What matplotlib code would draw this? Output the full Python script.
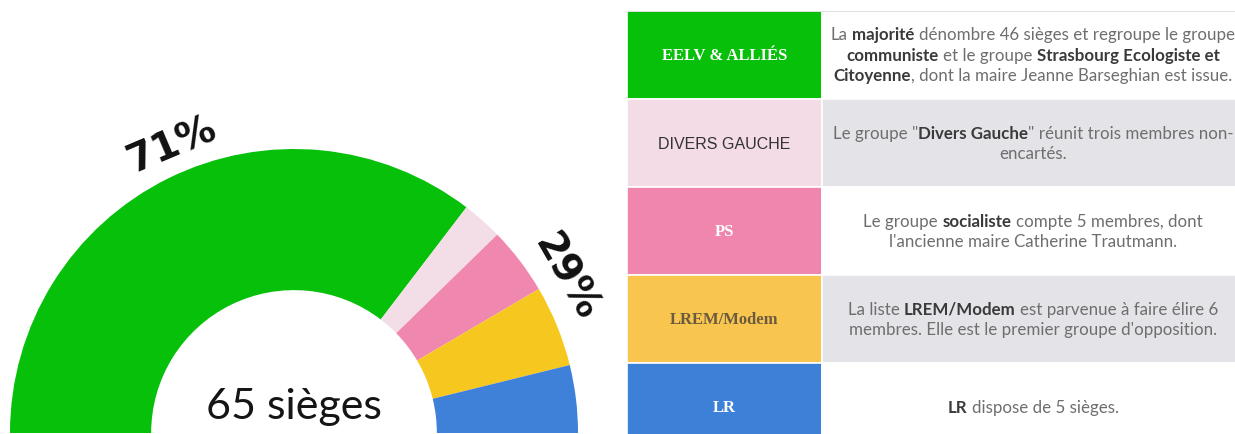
import matplotlib.pyplot as plt
import matplotlib.transforms as mtransforms
import numpy as np

# --- data ---
parties = ["EELV & ALLIÉS", "DIVERS GAUCHE", "PS", "LREM/Modem", "LR"]
seats = [46, 3, 5, 6, 5]
wedge_colors = ["#07c00a", "#f3dde7", "#ef87ae", "#f6c81f", "#3f81d8"]
cell_colors = ["#07c00a", "#f3dce6", "#f086ae", "#f8c54f", "#3d80d8"]
label_colors = ["white", "#333333", "white", "#6b5a40", "white"]
label_serif = [True, False, True, True, True]
row_bg = ["white", "#e3e3e8", "white", "#e3e3e8", "white"]

# each description: list of lines, each line a list of (text, bold)
descriptions = [
    [[("La ", False), ("majorité", True), (" dénombre 46 sièges et regroupe le groupe", False)],
     [("communiste", True), (" et le groupe ", False), ("Strasbourg Ecologiste et", True)],
     [("Citoyenne", True), (", dont la maire Jeanne Barseghian est issue.", False)]],
    [[("Le groupe \"", False), ("Divers Gauche", True), ("\" réunit trois membres non-", False)],
     [("encartés.", False)]],
    [[("Le groupe ", False), ("socialiste", True), (" compte 5 membres, dont", False)],
     [("l'ancienne maire Catherine Trautmann.", False)]],
    [[("La liste ", False), ("LREM/Modem", True), (" est parvenue à faire élire 6", False)],
     [("membres. Elle est le premier groupe d'opposition.", False)]],
    [[("LR", True), (" dispose de 5 sièges.", False)]],
]

W, H = 1235, 435
fig = plt.figure(figsize=(W / 100, H / 100), dpi=100)
fig.patch.set_facecolor("white")

# --- half donut ---
cx, cy, R = 294, 434, 284  # centre and outer radius in pixels
left_w = 627
ax = fig.add_axes([0, 0, left_w / W, 1])
ax.pie(seats + [sum(seats)], colors=wedge_colors + ["none"], startangle=180,
       counterclock=False, radius=1, wedgeprops=dict(width=0.497, linewidth=0))
ax.set_aspect("auto")
ax.set_xlim(-cx / R, (left_w - cx) / R)
ax.set_ylim(-(H - cy) / R, cy / R)
ax.axis("off")

pct_major = round(seats[0] / sum(seats) * 100)
pct_other = 100 - pct_major
for pct, ang in [(pct_major, 113), (pct_other, 30)]:
    a = np.radians(ang)
    ax.text(1.105 * np.cos(a), 1.105 * np.sin(a), f"{pct}%", rotation=ang - 90,
            rotation_mode="anchor", ha="center", va="center", fontsize=28,
            family="DejaVu Sans", fontweight="bold", color="#111111")
ax.text(0, 0.095, f"{sum(seats)} sièges", ha="center", va="center",
        fontsize=31, family="Lato", color="#151515")

# --- table ---
top = 12
row_h = 88
n = len(parties)
split = 195 / (W - left_w)
tab = fig.add_axes([left_w / W, 0, 1 - left_w / W, (H - top) / H])
ys = np.arange(n) + 0.5
tab.barh(ys, [split] * n, height=1, left=0, color=cell_colors,
         edgecolor="white", linewidth=1.2)
tab.barh(ys, [1.2 - split] * n, height=1, left=split, color=row_bg,
         edgecolor="white", linewidth=1.2)
tab.axhline(0, xmin=0, xmax=1, color="#dcdcdc", linewidth=1.2)
tab.set_xlim(0, 1)
tab.set_ylim((H - top) / row_h, 0)
tab.axis("off")

for i, name in enumerate(parties):
    if label_serif[i]:
        tab.text(split / 2, ys[i], name, ha="center", va="center", fontsize=12,
                 family="Liberation Serif", fontweight="bold", color=label_colors[i])
    else:
        tab.text(split / 2, ys[i], name, ha="center", va="center", fontsize=11.5,
                 family="Liberation Sans", color=label_colors[i])

# rich text lines (mixed bold), laid out in pixels
renderer = fig.canvas.get_renderer()
body_size = 12.2
ident = mtransforms.IdentityTransform()


def width_of(s, bold):
    if not s:
        return 0
    t = fig.text(0, 0, s, fontsize=body_size, family="Lato",
                 fontweight="bold" if bold else "normal")
    w = t.get_window_extent(renderer).width
    t.remove()
    return w


space_w = width_of("a a", False) - width_of("aa", False)
text_cx = 1033
line_gap = 20.5

for i, lines in enumerate(descriptions):
    row_c = top + row_h * (i + 0.5)
    first = row_c - line_gap * (len(lines) - 1) / 2
    for j, segs in enumerate(lines):
        pieces = []
        total = 0
        for s, b in segs:
            lead = len(s) - len(s.lstrip(" "))
            trail = len(s) - len(s.rstrip(" "))
            core = s.strip(" ")
            wc = width_of(core, b)
            pieces.append((core, b, lead * space_w, wc, trail * space_w))
            total += lead * space_w + wc + trail * space_w
        x = text_cx - total / 2
        ypix = H - (first + j * line_gap) - 5
        for core, b, lead_w, wc, trail_w in pieces:
            x += lead_w
            fig.text(x, ypix, core, transform=ident, ha="left", va="baseline",
                     fontsize=body_size, family="Lato",
                     fontweight="bold" if b else "normal",
                     color="#3a3a3a" if b else "#6e6e6e")
            x += wc + trail_w

fig.savefig("out.png", dpi=100)
